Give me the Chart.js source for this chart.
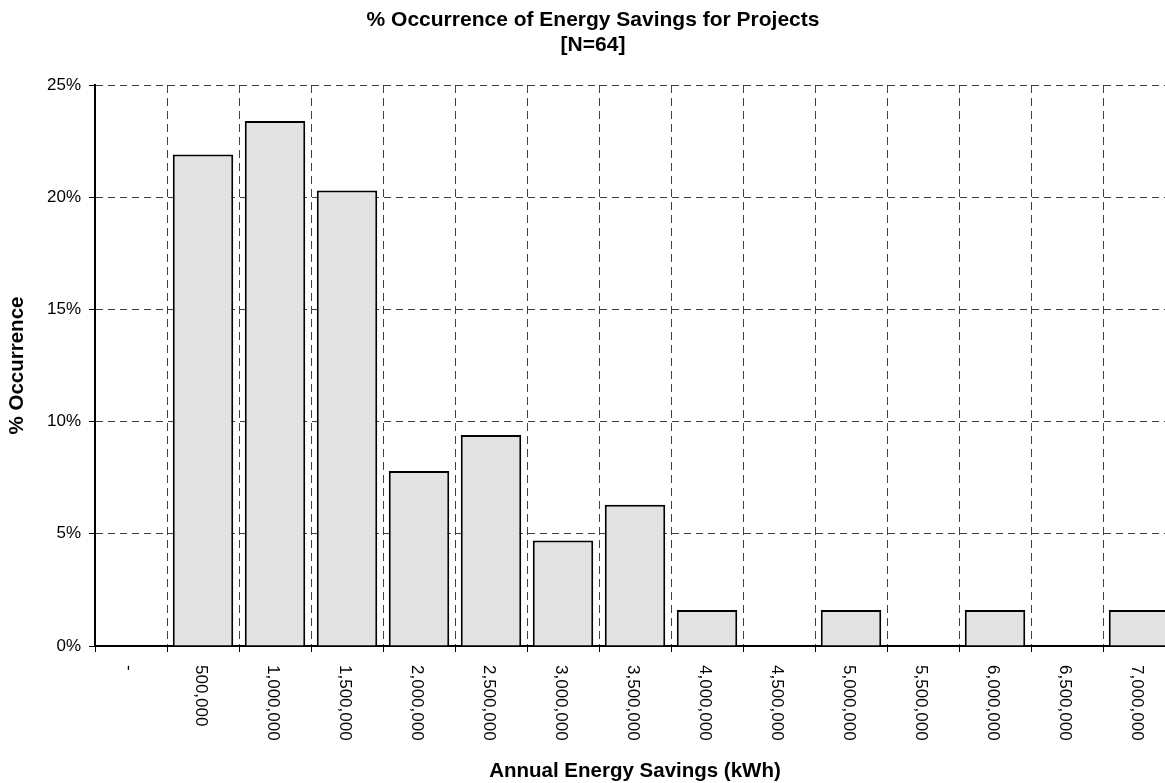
<!DOCTYPE html>
<html>
<head>
<meta charset="utf-8">
<script src="https://cdn.jsdelivr.net/npm/chart.js@4.4.1/dist/chart.umd.min.js"></script>
<style>
html,body{margin:0;padding:0;background:#fff;overflow:hidden;}
#wrap{width:1165px;height:783px;overflow:hidden;position:relative;}
canvas{display:block;}
</style>
</head>
<body>
<div id="wrap"><canvas id="chartSavings" width="1175" height="783"></canvas></div>
<script>
const categories = ["-","500,000","1,000,000","1,500,000","2,000,000","2,500,000","3,000,000","3,500,000","4,000,000","4,500,000","5,000,000","5,500,000","6,000,000","6,500,000","7,000,000"];
const occurrence = [0,21.9,23.4,20.3,7.8,9.4,4.7,6.3,1.6,0,1.6,0,1.6,0,1.6];
const yTicks = [0,5,10,15,20,25];
const titleLines = ["% Occurrence of Energy Savings for Projects","[N=64]"];
const xTitle = "Annual Energy Savings (kWh)";
const yTitle = "% Occurrence";

const FONT = '"Liberation Sans", Arial, sans-serif';

/* texts drawn by hand : rotated labels + titles */
const textPlugin = {
id:"textPlugin",
afterDraw(chart){
let ctx = chart.ctx;
let a = chart.chartArea;
let xs = chart.scales.x;
ctx.save();
ctx.fillStyle = "#000";

ctx.font = "17px " + FONT;
ctx.textAlign = "left";
ctx.textBaseline = "middle";
categories.forEach((lab,i)=>{
let px = xs.getPixelForValue(i);
ctx.save();
ctx.translate(px-2, a.bottom+19);
ctx.rotate(Math.PI/2);
ctx.fillText(lab,0,0);
ctx.restore();
});

ctx.textAlign = "center";
ctx.font = "bold 21px " + FONT;
ctx.fillText(titleLines[0], 593, 20);
ctx.fillText(titleLines[1], 593, 45);

ctx.font = "bold 20.5px " + FONT;
ctx.fillText(xTitle, (a.left+a.right)/2, 771);

ctx.save();
ctx.translate(17, (a.top+a.bottom)/2);
ctx.rotate(-Math.PI/2);
ctx.fillText(yTitle,0,0);
ctx.restore();

ctx.restore();
}
};

new Chart(document.getElementById("chartSavings"),{
type:"bar",
data:{
labels:categories,
datasets:[{
data:occurrence,
backgroundColor:"#e3e3e3",
borderColor:"#000",
borderWidth:(c)=>c.raw>0?2:0,
barPercentage:0.84,
categoryPercentage:1
}]
},
plugins:[textPlugin],
options:{
responsive:false,
animation:false,
devicePixelRatio:1,
layout:{padding:{top:85,left:0,right:0,bottom:0}},
plugins:{legend:{display:false},tooltip:{enabled:false},title:{display:false}},
scales:{
x:{
offset:true,
grid:{offset:true,color:"#404040",lineWidth:1,tickLength:6,tickColor:"#000",tickBorderDash:[]},
border:{display:true,color:"#000",width:2,dash:[8,5]},
ticks:{display:false},
afterFit:(s)=>{s.height=137;}
},
y:{
min:0,max:25,
afterBuildTicks:(s)=>{s.ticks=yTicks.map(v=>({value:v}));},
grid:{color:"#404040",lineWidth:1,tickLength:6,tickColor:"#000",tickBorderDash:[]},
border:{display:true,color:"#000",width:2,dash:[7,5]},
ticks:{color:"#000",padding:8,font:{family:FONT,size:17},callback:(v)=>v+"%"},
afterFit:(s)=>{s.width=95;}
}
}
}
});
</script>
</body>
</html>
